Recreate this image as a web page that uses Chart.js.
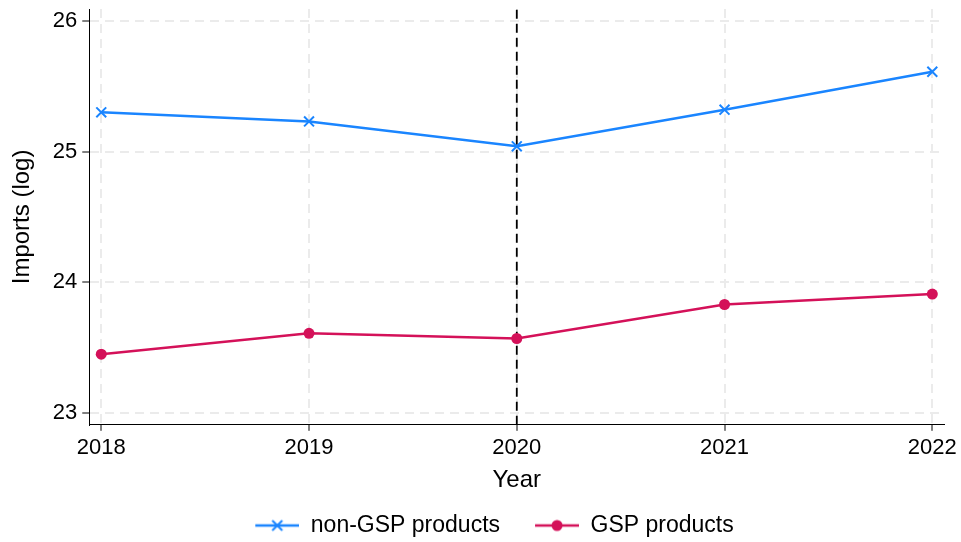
<!DOCTYPE html>
<html>
<head>
<meta charset="utf-8">
<script src="https://cdn.jsdelivr.net/npm/chart.js@4"></script>
<style>
  html, body { margin: 0; padding: 0; background: #fff; }
  #wrap { width: 961px; height: 542px; }
</style>
</head>
<body>
<div id="wrap"><canvas id="importsChart" width="961" height="542"></canvas></div>
<script>
/* data */
const years = [2018, 2019, 2020, 2021, 2022];
const nonGspImports = [25.30, 25.23, 25.04, 25.32, 25.61];
const gspImports = [23.45, 23.61, 23.57, 23.83, 23.91];
const yTicks = [23, 24, 25, 26];
const cutoffYear = 2020;

const blue = "#1a85ff";
const red = "#d41159";
const font = "'Liberation Sans', Arial, sans-serif";
const tickSize = 22;
const titleSize = 24;
const legendSize = 23;

// legend swatches: a line with the marker in the middle, some blank room on the left
const swatchGap = 25;
function legendSwatch(color, marker) {
    const c = document.createElement("canvas");
    c.width = 44 + swatchGap;
    c.height = 14;
    const g = c.getContext("2d");
    g.strokeStyle = color;
    g.fillStyle = color;
    g.lineWidth = 2.5;
    g.beginPath();
    g.moveTo(swatchGap, 7);
    g.lineTo(swatchGap + 44, 7);
    g.stroke();
    const cx = swatchGap + 22;
    if (marker === "cross") {
        g.lineWidth = 2;
        g.beginPath();
        g.moveTo(cx - 5, 2); g.lineTo(cx + 5, 12);
        g.moveTo(cx + 5, 2); g.lineTo(cx - 5, 12);
        g.stroke();
    } else {
        g.beginPath();
        g.arc(cx, 7, 5.5, 0, Math.PI * 2);
        g.fill();
    }
    return c;
}
const swatches = [legendSwatch(blue, "cross"), legendSwatch(red, "circle")];

const xMin = 2018 - 12 / 208;
const xMax = 2022 + 12 / 208;
const yMin = 22.91;
const yMax = 26.09;

const ctx = document.getElementById("importsChart");

new Chart(ctx, {
    type: "line",
    data: {
        datasets: [
            {
                label: "non-GSP products",
                data: years.map((yr, i) => ({ x: yr, y: nonGspImports[i] })),
                borderColor: blue,
                backgroundColor: blue,
                borderWidth: 2.5,
                pointStyle: "crossRot",
                pointRadius: 7,
                pointBorderWidth: 2,
                pointHoverRadius: 7,
            },
            {
                label: "GSP products",
                data: years.map((yr, i) => ({ x: yr, y: gspImports[i] })),
                borderColor: red,
                backgroundColor: red,
                borderWidth: 2.5,
                pointStyle: "circle",
                pointRadius: 5.5,
                pointBorderWidth: 0,
                pointHoverRadius: 5.5,
            },
            {
                label: "cutoff",
                data: [{ x: cutoffYear, y: yMin }, { x: cutoffYear, y: yMax }],
                borderColor: "#000",
                borderWidth: 1.8,
                borderDash: [9, 5],
                pointRadius: 0,
            },
        ],
    },
    options: {
        responsive: false,
        animation: false,
        layout: {
            // left padding shifts the legend right; the y title padding gives it back
            padding: { left: 19, right: 16, top: 6, bottom: -5 },
        },
        plugins: {
            tooltip: { enabled: false },
            legend: {
                position: "bottom",
                labels: {
                    usePointStyle: true,
                    pointStyleWidth: 44 + swatchGap,
                    padding: 10,
                    color: "#000",
                    font: { family: font, size: legendSize },
                    generateLabels: function (chart) {
                        return chart.data.datasets.slice(0, 2).map((ds, i) => ({
                            text: ds.label,
                            pointStyle: swatches[i],
                            fillStyle: ds.borderColor,
                            strokeStyle: ds.borderColor,
                            lineWidth: 0,
                            fontColor: "#000",
                            datasetIndex: i,
                        }));
                    },
                },
            },
        },
        scales: {
            x: {
                type: "linear",
                min: xMin,
                max: xMax,
                afterBuildTicks: axis => {
                    axis.ticks = years.map(v => ({ value: v }));
                },
                ticks: {
                    color: "#000",
                    font: { family: font, size: tickSize },
                    padding: 4,
                    callback: v => String(v),
                },
                grid: {
                    color: "#ebebeb",
                    lineWidth: 2,
                    tickColor: "#000",
                    tickLength: 6,
                    tickWidth: 1,
                },
                border: { display: true, color: "#000", width: 1, dash: [9, 6] },
                title: {
                    display: true,
                    text: "Year",
                    color: "#000",
                    font: { family: font, size: titleSize },
                    padding: { top: 1, bottom: 9 },
                },
            },
            y: {
                min: yMin,
                max: yMax,
                afterBuildTicks: axis => {
                    axis.ticks = yTicks.map(v => ({ value: v }));
                },
                ticks: {
                    color: "#000",
                    // tiny lineHeight so the top label does not push the plot down
                    font: { family: font, size: tickSize, lineHeight: 0.1 },
                    padding: 5,
                },
                grid: {
                    color: "#ebebeb",
                    lineWidth: 2,
                    tickColor: "#000",
                    tickLength: 7,
                    tickWidth: 1,
                },
                border: { display: true, color: "#000", width: 1, dash: [9, 6] },
                title: {
                    display: true,
                    text: "Imports (log)",
                    color: "#000",
                    font: { family: font, size: titleSize },
                    padding: { top: -11, bottom: 11 },
                },
            },
        },
    },
});
</script>
</body>
</html>
